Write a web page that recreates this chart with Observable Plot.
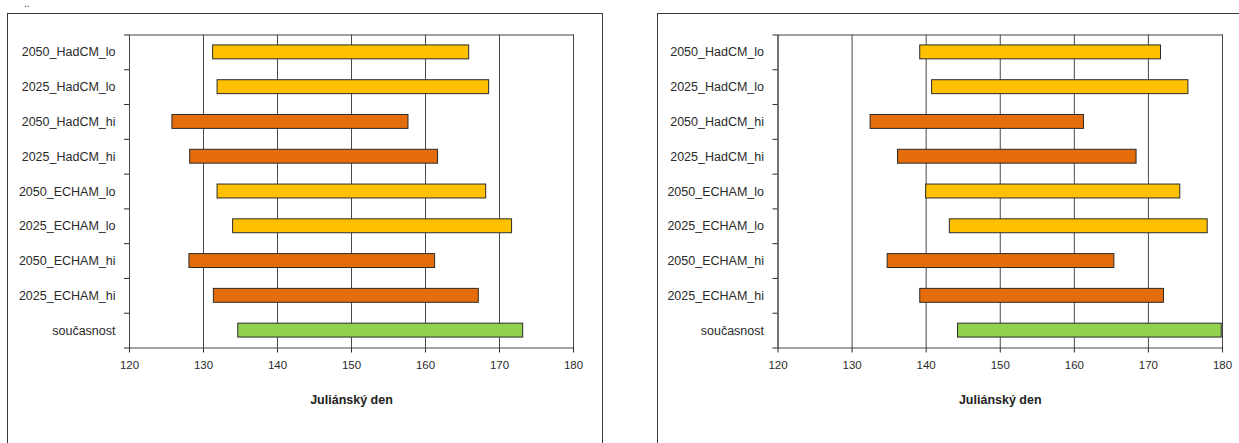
<!DOCTYPE html>
<html>
<head>
<meta charset="utf-8">
<script src="https://cdn.jsdelivr.net/npm/d3@7"></script>
<script src="https://cdn.jsdelivr.net/npm/@observablehq/plot@0.6"></script>
<style>
  html, body { margin: 0; padding: 0; background: #fff; }
  body { width: 1239px; height: 443px; overflow: hidden; position: relative; font-family: "Liberation Sans", Arial, sans-serif; }
  .panel { position: absolute; top: 0; }
  .box { position: absolute; border: 1px solid #3a3a3a; background: transparent; pointer-events: none; box-sizing: border-box; }
  .dots { position: absolute; left: 24px; top: 0px; font-size: 10px; line-height: 8px; height: 9px; color: #333; }
</style>
</head>
<body>
<div class="dots">..</div>
<div class="box" style="left:7px; top:13px; width:596px; height:460px;"></div>
<div class="box" style="left:657px; top:13px; width:620px; height:460px;"></div>
<div id="left" class="panel" style="left:0px; width:600px;"></div>
<div id="right" class="panel" style="left:648px; width:591px;"></div>
<script>
// Categories listed bottom-up (Excel order: first category at the bottom)
const categories = ["současnost","2025_ECHAM_hi","2050_ECHAM_hi","2025_ECHAM_lo","2050_ECHAM_lo","2025_HadCM_hi","2050_HadCM_hi","2025_HadCM_lo","2050_HadCM_lo"];
const scenarioType = ["current","hi","hi","lo","lo","hi","hi","lo","lo"];
const leftStart  = [134.7, 131.4, 128.1, 134.0, 131.9, 128.2, 125.8, 131.9, 131.3];
const leftEnd    = [173.2, 167.2, 161.3, 171.7, 168.2, 161.7, 157.7, 168.6, 165.9];
const rightStart = [144.3, 139.2, 134.8, 143.2, 140.0, 136.2, 132.5, 140.8, 139.2];
const rightEnd   = [179.9, 172.1, 165.4, 178.0, 174.3, 168.4, 161.3, 175.4, 171.7];
const xTicks = [120, 130, 140, 150, 160, 170, 180];
const xTitle = "Juliánský den";

function chart(start, end, width, marginLeft, marginRight) {
  const rows = categories.map((c, i) => ({c, i, type: scenarioType[i], start: start[i], end: end[i]}));
  return Plot.plot({
    width, height: 443,
    marginLeft, marginRight, marginTop: 34.5, marginBottom: 443 - 347.5,
    style: {background: "transparent", fontFamily: "'Liberation Sans', Arial, sans-serif", fontSize: "12.5px", color: "#2a2a2a", overflow: "visible"},
    x: {domain: [120, 180]},
    y: {domain: [0, 9]},
    color: {domain: ["lo", "hi", "current"], range: ["#FFC000", "#E46C0A", "#92D050"]},
    marks: [
      Plot.gridX(xTicks, {stroke: "#4a4a4a", strokeOpacity: 1}),
      Plot.frame({stroke: "#444"}),
      Plot.axisX(xTicks, {tickSize: 5, tickPadding: 8, label: null, fontSize: 11.5}),
      Plot.axisY(d3.range(categories.length + 1), {tickSize: 5, tickFormat: () => "", label: null}),
      Plot.axisY(rows.map(r => r.i + 0.5), {tickSize: 0, tickPadding: 14, tickFormat: d => categories[Math.floor(d)], label: null}),
      Plot.rect(rows, {x1: "start", x2: "end", y1: d => d.i + 0.3, y2: d => d.i + 0.7, fill: "type", stroke: "#2b2b2b", strokeWidth: 1}),
      Plot.text([xTitle], {frameAnchor: "bottom", dy: 56, text: d => d, fontWeight: "bold", fontSize: 12.5, fill: "#222"})
    ]
  });
}

document.getElementById("left").append(chart(leftStart, leftEnd, 600, 129, 600 - 573));
document.getElementById("right").append(chart(rightStart, rightEnd, 591, 777.5 - 648, 648 + 591 - 1222));
</script>
</body>
</html>
